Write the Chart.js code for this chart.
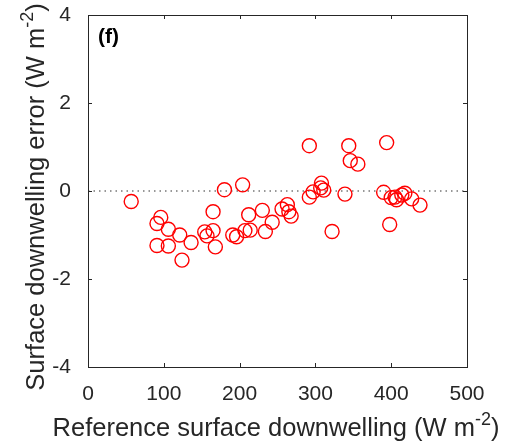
<!DOCTYPE html>
<html>
<head>
<meta charset="utf-8">
<script src="https://cdn.jsdelivr.net/npm/chart.js@4"></script>
<style>
  html, body { margin: 0; padding: 0; background: #fff; }
  #grafica { display: block; }
</style>
</head>
<body>
<canvas id="grafica" width="507" height="444"></canvas>
<script>
// Valores (W m-2)
const referencia = [57, 91, 96, 91, 106, 106, 121, 124, 136, 154, 157, 165, 165, 168, 180, 204, 191, 196, 207, 212, 214, 230, 234, 243, 256, 263, 265, 268, 292, 344, 346, 356, 292, 297, 308, 307, 311, 339, 322, 394, 390, 398, 400, 405, 407, 414, 418, 427, 438];
const errores = [-0.24, -0.74, -0.6, -1.24, -0.87, -1.25, -1.0, -1.57, -1.17, -0.93, -1.02, -0.47, -0.9, -1.27, 0.03, 0.14, -1.0, -1.04, -0.9, -0.54, -0.89, -0.44, -0.92, -0.71, -0.41, -0.31, -0.47, -0.57, 1.03, 1.03, 0.69, 0.61, -0.14, -0.02, 0.18, 0.07, 0.02, -0.07, -0.92, 1.1, -0.03, -0.76, -0.15, -0.14, -0.2, -0.09, -0.05, -0.18, -0.32];
const ticksX = [0, 100, 200, 300, 400, 500];
const ticksY = [-4, -2, 0, 2, 4];
const tituloX = "Reference surface downwelling (W m";
const tituloY = "Surface downwelling error (W m";
const etiquetaPanel = "(f)";

const COLOR_EJE = "#262626";
const FUENTE = "'Liberation Sans', Arial, sans-serif";

// dibuja texto con superíndice -2 y paréntesis de cierre
function textoConExp(ctx, texto, x, y, tam) {
    ctx.font = `${tam}px ${FUENTE}`;
    const w1 = ctx.measureText(texto).width;
    ctx.font = `${Math.round(tam * 0.7)}px ${FUENTE}`;
    const w2 = ctx.measureText("-2").width;
    ctx.font = `${tam}px ${FUENTE}`;
    const w3 = ctx.measureText(")").width;
    const total = w1 + w2 + w3;
    let x0 = x - total / 2;
    ctx.textAlign = "left";
    ctx.textBaseline = "alphabetic";
    ctx.fillText(texto, x0, y);
    ctx.font = `${Math.round(tam * 0.7)}px ${FUENTE}`;
    ctx.fillText("-2", x0 + w1, y - tam * 0.45);
    ctx.font = `${tam}px ${FUENTE}`;
    ctx.fillText(")", x0 + w1 + w2, y);
}

const decoracion = {
    id: "decoracion",
    beforeDatasetsDraw(chart) {
        const { ctx, chartArea: a, scales } = chart;
        const y0 = scales.y.getPixelForValue(0);
        ctx.save();
        ctx.strokeStyle = "#333";
        ctx.lineWidth = 1.2;
        ctx.setLineDash([1.5, 4]);
        ctx.beginPath();
        ctx.moveTo(a.left, y0);
        ctx.lineTo(a.right, y0);
        ctx.stroke();
        ctx.restore();
    },
    afterDraw(chart) {
        const { ctx, chartArea: a, scales } = chart;
        ctx.save();
        ctx.strokeStyle = COLOR_EJE;
        ctx.lineWidth = 1;
        ctx.strokeRect(a.left + 0.5, a.top + 0.5, a.right - a.left, a.bottom - a.top);
        ctx.beginPath();
        ticksX.forEach(v => {
            const px = Math.round(scales.x.getPixelForValue(v)) + 0.5;
            ctx.moveTo(px, a.bottom); ctx.lineTo(px, a.bottom - 4);
            ctx.moveTo(px, a.top); ctx.lineTo(px, a.top + 4);
        });
        ticksY.forEach(v => {
            const py = Math.round(scales.y.getPixelForValue(v)) + 0.5;
            ctx.moveTo(a.left, py); ctx.lineTo(a.left + 4, py);
            ctx.moveTo(a.right, py); ctx.lineTo(a.right - 4, py);
        });
        ctx.stroke();

        // etiqueta del panel
        ctx.fillStyle = "#000";
        ctx.font = `bold 21px ${FUENTE}`;
        ctx.textAlign = "left";
        ctx.textBaseline = "middle";
        ctx.fillText(etiquetaPanel, a.left + 10, a.top + 22);

        // títulos de ejes
        ctx.fillStyle = COLOR_EJE;
        textoConExp(ctx, tituloX, 276, 436, 25.5);
        ctx.translate(44, 197);
        ctx.rotate(-Math.PI / 2);
        textoConExp(ctx, tituloY, 0, 0, 25.5);
        ctx.restore();
    }
};

new Chart(document.getElementById("grafica"), {
    type: "scatter",
    data: {
        datasets: [{
            data: referencia.map((x, i) => ({ x: x, y: errores[i] })),
            borderColor: "rgb(255, 0, 0)",
            backgroundColor: "rgba(0,0,0,0)",
            pointRadius: 7,
            pointBorderWidth: 1.4,
            pointHoverRadius: 7
        }]
    },
    options: {
        responsive: false,
        animation: false,
        events: [],
        layout: { padding: { left: 0, right: 40, top: 15, bottom: 0 } },
        plugins: { legend: { display: false }, tooltip: { enabled: false } },
        scales: {
            x: {
                type: "linear", min: 0, max: 500,
                afterBuildTicks: s => { s.ticks = ticksX.map(v => ({ value: v })); },
                afterFit: s => { s.height = 77; s.paddingLeft = 0; s.paddingRight = 0; },
                grid: { display: false },
                border: { display: false },
                ticks: { padding: 7, color: COLOR_EJE, font: { family: FUENTE, size: 21 } }
            },
            y: {
                type: "linear", min: -4, max: 4,
                afterBuildTicks: s => { s.ticks = ticksY.map(v => ({ value: v })); },
                afterFit: s => { s.width = 88; s.paddingTop = 0; s.paddingBottom = 0; },
                grid: { display: false },
                border: { display: false },
                ticks: { padding: 9, color: COLOR_EJE, font: { family: FUENTE, size: 21 } }
            }
        }
    },
    plugins: [decoracion]
});
</script>
</body>
</html>
